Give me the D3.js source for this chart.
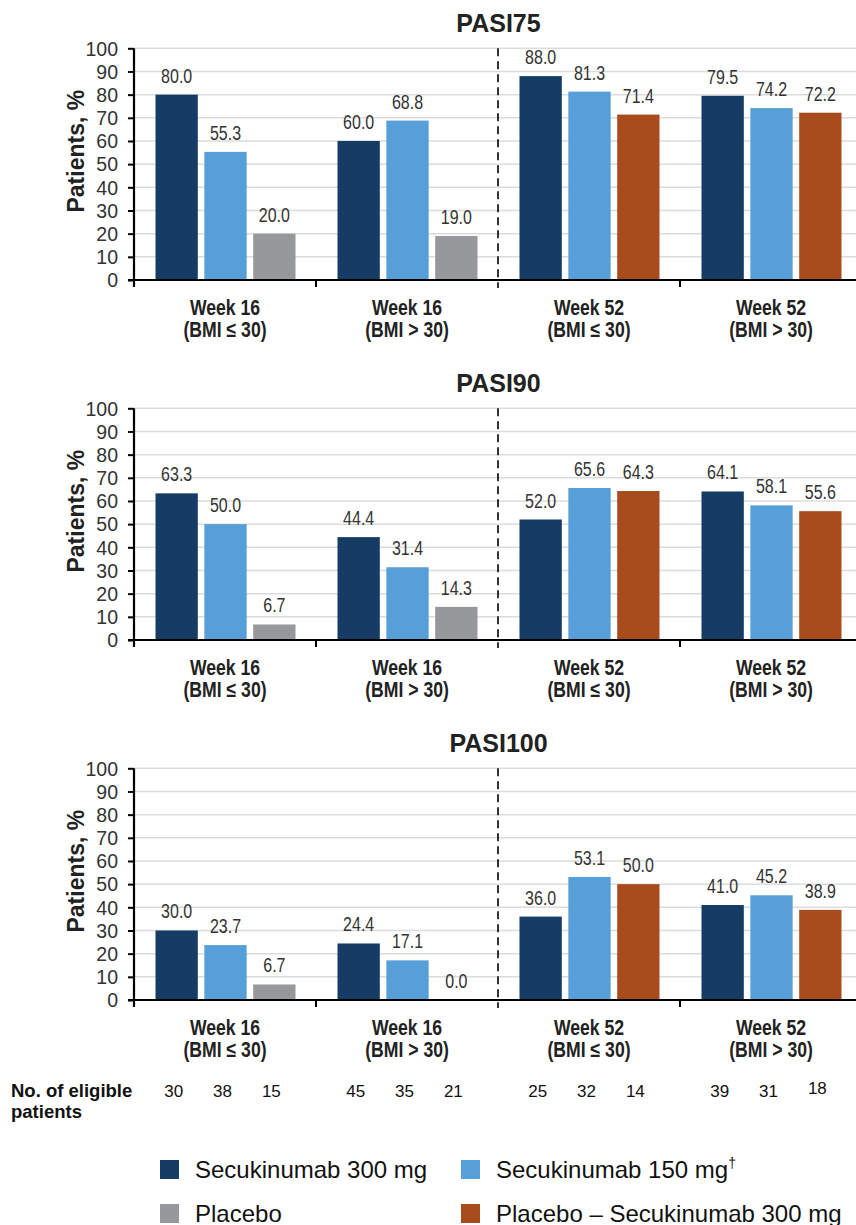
<!DOCTYPE html>
<html>
<head>
<meta charset="utf-8">
<script src="https://cdn.jsdelivr.net/npm/d3@7"></script>
<style>
  html, body { margin: 0; padding: 0; background: #fff; }
  svg { display: block; }
</style>
</head>
<body>
<svg id="chart" width="856" height="1225"></svg>
<script>
// ---------- DATA ----------
const groups = ["w16a", "w16b", "w52a", "w52b"];
const groupLine1 = ["Week 16", "Week 16", "Week 52", "Week 52"];
const groupLine2 = ["(BMI \u2264 30)", "(BMI > 30)", "(BMI \u2264 30)", "(BMI > 30)"];
const panels = ["PASI75", "PASI90", "PASI100"];

const secu300 = {
  PASI75:  [80.0, 60.0, 88.0, 79.5],
  PASI90:  [63.3, 44.4, 52.0, 64.1],
  PASI100: [30.0, 24.4, 36.0, 41.0]
};
const secu150 = {
  PASI75:  [55.3, 68.8, 81.3, 74.2],
  PASI90:  [50.0, 31.4, 65.6, 58.1],
  PASI100: [23.7, 17.1, 53.1, 45.2]
};
// third bar: Placebo at week 16, Placebo – Secukinumab 300 mg at week 52
const thirdArm = {
  PASI75:  [20.0, 19.0, 71.4, 72.2],
  PASI90:  [6.7, 14.3, 64.3, 55.6],
  PASI100: [6.7, 0.0, 50.0, 38.9]
};
const thirdArmType = ["placebo", "placebo", "switch", "switch"];
const eligibleN = [[30, 38, 15], [45, 35, 21], [25, 32, 14], [39, 31, 18]];
const yTicks = [0, 10, 20, 30, 40, 50, 60, 70, 80, 90, 100];

const legendItems = [
  {key: "s300", label: "Secukinumab 300 mg", sup: ""},
  {key: "s150", label: "Secukinumab 150 mg", sup: "\u2020"},
  {key: "placebo", label: "Placebo", sup: ""},
  {key: "switch", label: "Placebo \u2013 Secukinumab 300 mg", sup: ""}
];

// ---------- STYLE ----------
const colors = {s300: "#143c64", s150: "#569fd8", placebo: "#97989b", switch: "#a84c1e"};
const sans = "'Liberation Sans', Arial, Helvetica, sans-serif";
const NARROW = 0.82;

const svg = d3.select("#chart");
const axisX = 134, rightX = 862;
const panelTop0 = 48.3, panelBottom0 = 280, panelStep = 360;

const x0 = d3.scaleBand().domain(groups).range([axisX, rightX]).padding(0);
const x1 = d3.scaleBand().domain([0, 1, 2]).range([21.5, 161.5]).paddingInner(0.134).paddingOuter(0);

// narrow text helper (condensed via horizontal scale)
function narrowText(sel, x, y, txt, size, bold, fill) {
  const t = sel.append("g").attr("transform", `translate(${x},${y}) scale(${NARROW},1)`)
    .append("text").attr("text-anchor", "middle").attr("font-family", sans)
    .attr("font-size", size).attr("fill", fill).text(txt);
  if (bold) t.attr("font-weight", "bold");
  return t;
}

panels.forEach((p, pi) => {
  const top = panelTop0 + pi * panelStep;
  const bottom = panelBottom0 + pi * panelStep;
  const y = d3.scaleLinear().domain([0, 100]).range([bottom, top]);
  const g = svg.append("g");

  // gridlines
  g.selectAll("line.grid").data(yTicks.filter(t => t > 0)).join("line")
    .attr("x1", axisX).attr("x2", 856)
    .attr("y1", d => y(d)).attr("y2", d => y(d))
    .attr("stroke", "#dcdcdc").attr("stroke-width", 1.5);

  // title
  g.append("text").attr("x", 498.5).attr("y", top - 16.5)
    .attr("text-anchor", "middle").attr("font-family", sans).attr("font-weight", "bold")
    .attr("font-size", 25).attr("fill", "#222").text(p);

  // bars
  const rows = groups.map((gk, gi) => [
    {g: gk, i: 0, v: secu300[p][gi], c: colors.s300},
    {g: gk, i: 1, v: secu150[p][gi], c: colors.s150},
    {g: gk, i: 2, v: thirdArm[p][gi], c: colors[thirdArmType[gi]]}
  ]).flat();

  g.selectAll("rect.bar").data(rows).join("rect")
    .attr("x", d => x0(d.g) + x1(d.i))
    .attr("width", x1.bandwidth())
    .attr("y", d => y(d.v))
    .attr("height", d => y(0) - y(d.v))
    .attr("fill", d => d.c);

  rows.forEach(d => {
    narrowText(g, x0(d.g) + x1(d.i) + x1.bandwidth() / 2, y(d.v) - 12,
      d.v.toFixed(1), 19.5, false, "#333");
  });

  // y axis
  const yAxis = d3.axisLeft(y).tickValues(yTicks).tickSize(6).tickPadding(10);
  const ya = g.append("g").attr("transform", `translate(${axisX},0)`).call(yAxis);
  ya.select(".domain").attr("stroke", "#000").attr("stroke-width", 2.2)
    .attr("d", `M0,${top}V${bottom + 7}`);
  ya.selectAll(".tick line").attr("stroke", "#000").attr("stroke-width", 2);
  ya.selectAll(".tick text").attr("font-family", sans).attr("font-size", 19.5)
    .attr("fill", "#333").attr("dy", "0.35em");

  // y title
  g.append("text")
    .attr("transform", `translate(84,${(top + bottom) / 2 - 13}) rotate(-90)`)
    .attr("text-anchor", "middle").attr("font-family", sans).attr("font-weight", "bold")
    .attr("font-size", 23).attr("fill", "#222").text("Patients, %");

  // x axis baseline and ticks
  g.append("line").attr("x1", axisX - 6).attr("x2", 856)
    .attr("y1", bottom).attr("y2", bottom).attr("stroke", "#000").attr("stroke-width", 2.2);
  const bounds = groups.map(d => x0(d)).filter((v, i) => i !== 2);
  g.selectAll("line.xt").data(bounds).join("line")
    .attr("x1", d => d).attr("x2", d => d)
    .attr("y1", bottom).attr("y2", bottom + 7)
    .attr("stroke", "#000").attr("stroke-width", 2);

  // dashed separator
  g.append("line").attr("x1", x0("w52a")).attr("x2", x0("w52a"))
    .attr("y1", top).attr("y2", bottom + 8)
    .attr("stroke", "#000").attr("stroke-width", 1.6).attr("stroke-dasharray", "8,5");

  // group labels
  groups.forEach((gk, gi) => {
    const cx = x0(gk) + x0.bandwidth() / 2;
    narrowText(g, cx, bottom + 35, groupLine1[gi], 21.5, true, "#222");
    narrowText(g, cx, bottom + 57, groupLine2[gi], 21.5, true, "#222");
  });
});

// eligible patients row
const nY = 1097;
svg.append("text").attr("x", 11).attr("y", nY).attr("font-family", sans)
  .attr("font-weight", "bold").attr("font-size", 18.5).attr("fill", "#111").text("No. of eligible");
svg.append("text").attr("x", 11).attr("y", nY + 21).attr("font-family", sans)
  .attr("font-weight", "bold").attr("font-size", 18.5).attr("fill", "#111").text("patients");
const nRows = groups.map((gk, gi) => eligibleN[gi].map((n, i) => ({g: gk, i, n}))).flat();
svg.selectAll("text.n").data(nRows).join("text")
  .attr("x", d => x0(d.g) + x1(d.i) + x1.bandwidth() / 2 - 3)
  .attr("y", d => nY - (d.g === "w52b" && d.i === 2 ? 3 : 0))
  .attr("text-anchor", "middle").attr("font-family", sans)
  .attr("font-size", 17).attr("fill", "#111").text(d => d.n);

// legend
const legPos = [[160, 1160], [461, 1160], [160, 1204], [461, 1204]];
legendItems.forEach((it, i) => {
  const [lx, ly] = legPos[i];
  svg.append("rect").attr("x", lx).attr("y", ly).attr("width", 19).attr("height", 19)
    .attr("fill", colors[it.key]);
  const t = svg.append("text").attr("x", lx + 35).attr("y", ly + 17.5)
    .attr("font-family", sans).attr("font-size", 24).attr("fill", "#111").text(it.label);
  if (it.sup) t.append("tspan").attr("font-size", 14).attr("dy", -10).text(it.sup);
});
</script>
</body>
</html>
